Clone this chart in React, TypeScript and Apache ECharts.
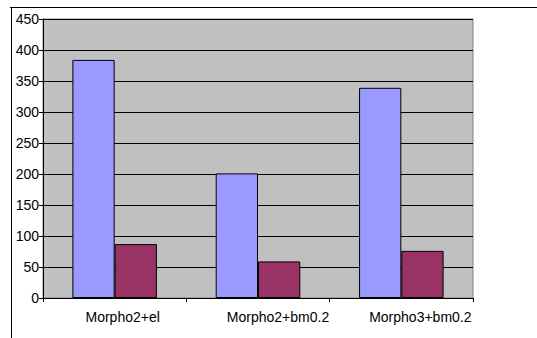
import React, { useEffect, useRef } from "react";
import * as echarts from "echarts";

const categories = ["Morpho2+el", "Morpho2+bm0.2", "Morpho3+bm0.2"];
const seriesA = [384, 201, 339];
const seriesB = [87, 59, 76];
const yTicks = { min: 0, max: 450, interval: 50 };

export default function App() {
  const ref = useRef<HTMLDivElement>(null);
  useEffect(() => {
    if (!ref.current) return;
    const chart = echarts.init(ref.current, null, { renderer: "svg" });
    const font = "Liberation Sans, Arial, sans-serif";
    const shifts = [16, 40, 38];
    const rich: Record<string, any> = {};
    shifts.forEach((s, i) => {
      rich["c" + i] = { fontSize: 14, color: "#000", fontFamily: font, padding: [0, 0, 0, s] };
    });
    chart.setOption({
      animation: false,
      backgroundColor: "#ffffff",
      textStyle: { fontFamily: font },
      grid: {
        left: 43,
        right: 64,
        top: 19,
        bottom: 40,
        show: true,
        backgroundColor: "#C0C0C0",
        borderColor: "#808080",
        borderWidth: 1,
      },
      graphic: [
        { type: "line", shape: { x1: 10, y1: 7.5, x2: 537, y2: 7.5 }, style: { stroke: "#000", lineWidth: 1 } },
        { type: "line", shape: { x1: 11.5, y1: 7, x2: 11.5, y2: 338 }, style: { stroke: "#000", lineWidth: 1 } },
      ],
      xAxis: {
        type: "category",
        data: categories,
        axisLine: { lineStyle: { color: "#000", width: 1 } },
        axisTick: { show: true, alignWithLabel: false, length: 4, lineStyle: { color: "#000" } },
        axisLabel: {
          color: "#000",
          fontSize: 14,
          margin: 12,
          fontFamily: font,
          interval: 0,
          formatter: (v: string, i: number) => `{c${i}|${v}}`,
          rich,
        },
        splitLine: { show: false },
      },
      yAxis: {
        type: "value",
        min: yTicks.min,
        max: yTicks.max,
        interval: yTicks.interval,
        axisLine: { show: true, lineStyle: { color: "#000", width: 1 } },
        axisTick: { show: true, length: 4, lineStyle: { color: "#000" } },
        axisLabel: { color: "#000", fontSize: 14, margin: 4, fontFamily: font },
        splitLine: { show: true, lineStyle: { color: "#000", width: 1 } },
      },
      series: [
        {
          type: "bar",
          data: seriesA,
          barGap: "0%",
          barCategoryGap: "41%",
          itemStyle: { color: "#9999FF", borderColor: "#000", borderWidth: 1 },
        },
        {
          type: "bar",
          data: seriesB,
          itemStyle: { color: "#993366", borderColor: "#000", borderWidth: 1 },
        },
      ],
    });
    return () => chart.dispose();
  }, []);
  return <div ref={ref} style={{ width: 537, height: 338, position: "absolute", left: 0, top: 0 }} />;
}
